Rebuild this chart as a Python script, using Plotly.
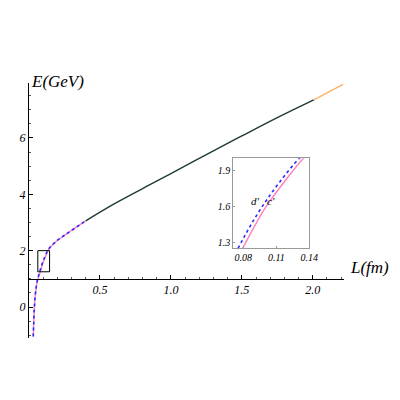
import plotly.graph_objects as go

pink_L = [0.030, 0.033, 0.037, 0.042, 0.050, 0.058, 0.066, 0.0795, 0.0895, 0.1010, 0.1170, 0.1348,
          0.146, 0.160, 0.180, 0.200, 0.228, 0.260, 0.300, 0.350, 0.400]
pink_E = [-1.05, -0.60, -0.10, 0.30, 0.65, 0.88, 1.05, 1.25, 1.42, 1.60, 1.80, 2.00,
          2.09, 2.17, 2.27, 2.36, 2.46, 2.58, 2.72, 2.89, 3.06]

blue_L = [0.030, 0.033, 0.037, 0.042, 0.049, 0.056, 0.064, 0.0755, 0.0855, 0.0975, 0.1130, 0.1310,
          0.143, 0.157, 0.178, 0.200, 0.228, 0.260, 0.300, 0.350, 0.400]
blue_E = [-1.05, -0.60, -0.10, 0.30, 0.65, 0.88, 1.05, 1.25, 1.42, 1.60, 1.80, 2.00,
          2.09, 2.17, 2.27, 2.37, 2.47, 2.58, 2.72, 2.89, 3.06]

green_L = [0.40, 0.60, 0.852, 1.00, 1.25, 1.50, 1.75, 2.007]
green_E = [3.06, 3.66, 4.34, 4.73, 5.41, 6.07, 6.72, 7.35]

orange_L = [2.007, 2.10, 2.214]
orange_E = [7.35, 7.60, 7.90]

x_ticks = [0.5, 1.0, 1.5, 2.0]
x_ticktext = ["0.5", "1.0", "1.5", "2.0"]
y_ticks = [0, 2, 4, 6]
inset_x_ticks = [0.08, 0.11, 0.14]
inset_y_ticks = [1.3, 1.6, 1.9]

serif_it = dict(family="Liberation Serif", style="italic", color="black")

# the page puts the figure 8px in from the top-left corner, so shift the margins
L0, T0 = 21, 75
PW, PH = 315, 255

fig = go.Figure()

for xa, ya in [("x", "y"), ("x2", "y2")]:
    fig.add_trace(go.Scatter(x=pink_L, y=pink_E, mode="lines", xaxis=xa, yaxis=ya,
                             line=dict(color="#ff7fbf", width=1.4, shape="spline"), showlegend=False))
    fig.add_trace(go.Scatter(x=blue_L, y=blue_E, mode="lines", xaxis=xa, yaxis=ya,
                             line=dict(color="#2a2aff", width=1.6, dash="dot", shape="spline"),
                             showlegend=False))

fig.add_trace(go.Scatter(x=green_L, y=green_E, mode="lines",
                         line=dict(color="#1f3a32", width=1.4, shape="spline"), showlegend=False))
fig.add_trace(go.Scatter(x=orange_L, y=orange_E, mode="lines",
                         line=dict(color="#ffb366", width=1.4), showlegend=False))

y_lo, y_hi = -1.1, 7.95

fig.update_layout(
    width=400, height=400,
    margin=dict(l=L0, r=400 - L0 - PW, t=T0, b=400 - T0 - PH),
    paper_bgcolor="white", plot_bgcolor="white",
    xaxis=dict(range=[0, 2.22], anchor="free", position=(1 - y_lo) / (y_hi - y_lo), automargin=False,
               showline=True, linecolor="black", linewidth=1, showgrid=False, zeroline=False,
               tickmode="array", tickvals=x_ticks, ticktext=x_ticktext,
               ticks="inside", ticklen=4, tickcolor="black",
               minor=dict(tickmode="array", tickvals=[0.1, 0.2, 0.3, 0.4, 0.6, 0.7, 0.8, 0.9,
                                                     1.1, 1.2, 1.3, 1.4, 1.6, 1.7, 1.8, 1.9, 2.1, 2.2],
                          ticks="inside", ticklen=2, tickcolor="#555"),
               tickfont=dict(size=12, **serif_it)),
    yaxis=dict(range=[y_lo, y_hi], automargin=False, showline=True, linecolor="black", linewidth=1,
               showgrid=False, zeroline=False,
               tickmode="array", tickvals=y_ticks, ticks="inside", ticklen=4, tickcolor="black",
               minor=dict(tickmode="array", tickvals=[-1, -0.5, 0.5, 1, 1.5, 2.5, 3, 3.5, 4.5, 5, 5.5, 6.5, 7, 7.5],
                          ticks="inside", ticklen=2, tickcolor="#555"),
               tickfont=dict(size=12, **serif_it)),
    xaxis2=dict(domain=[(233.3 - 29) / PW, (309.3 - 29) / PW], anchor="y2", automargin=False,
                range=[0.071, 0.14], showline=True, mirror=True, linecolor="#999", linewidth=1,
                showgrid=False, zeroline=False, tickmode="array", tickvals=inset_x_ticks,
                ticktext=["0.08", "0.11", "0.14"],
                ticks="inside", ticklen=2, tickcolor="#999", tickfont=dict(size=10, **serif_it)),
    yaxis2=dict(domain=[(338 - 248) / PH, (338 - 158.3) / PH], anchor="x2", automargin=False,
                range=[1.25, 2.0], showline=True, mirror=True, linecolor="#999", linewidth=1,
                showgrid=False, zeroline=False, tickmode="array", tickvals=inset_y_ticks,
                ticktext=["1.3", "1.6", "1.9"],
                ticks="inside", ticklen=2, tickcolor="#999", tickfont=dict(size=10, **serif_it)),
)

# zoom box on the main curve
fig.add_shape(type="rect", xref="x", yref="y", x0=0.062, x1=0.145, y0=1.25, y1=2.0,
              line=dict(color="black", width=1))

fig.add_annotation(text="E(GeV)", xref="paper", yref="paper", x=0.0, y=(338 - 70) / PH,
                   showarrow=False, font=dict(size=17, **serif_it))
fig.add_annotation(text="L(fm)", xref="paper", yref="paper", x=(348 - 29) / PW,
                   y=(338 - 279) / PH, xanchor="left", showarrow=False,
                   font=dict(size=17, **serif_it))
fig.add_annotation(text="d'", xref="x2", yref="y2", x=0.0915, y=1.645, showarrow=False,
                   font=dict(size=11, **serif_it))
fig.add_annotation(text="c'", xref="x2", yref="y2", x=0.1055, y=1.645, showarrow=False,
                   font=dict(size=11, **serif_it))

fig.write_html("out.html")
